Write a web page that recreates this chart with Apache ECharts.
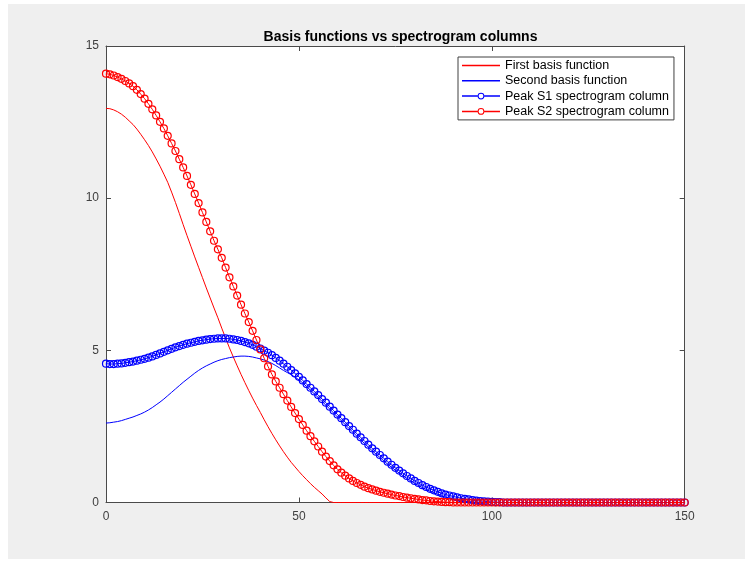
<!DOCTYPE html>
<html>
<head>
<meta charset="utf-8">
<script src="https://cdn.jsdelivr.net/npm/echarts@6/dist/echarts.min.js"></script>
<style>
  html, body { margin: 0; padding: 0; background: #ffffff; }
  #frame { position: absolute; left: 8px; top: 4px; width: 737px; height: 555px; background: #efefef; }
  #chart { position: absolute; left: 0; top: 0; width: 745px; height: 561px; }
</style>
</head>
<body>
<div id="frame"></div>
<div id="chart"></div>
<script>
// Sample index 0..150 along the x axis; one value per sample.
const firstBasis = [
  12.95, 12.94, 12.90, 12.84, 12.76, 12.66, 12.54, 12.42, 12.27, 12.10,
  11.92, 11.73, 11.52, 11.29, 11.05, 10.79, 10.52, 10.20, 9.86, 9.50,
  9.13, 8.77, 8.42, 8.07, 7.73, 7.39, 7.05, 6.72, 6.39, 6.07,
  5.73, 5.40, 5.08, 4.78, 4.49, 4.21, 3.94, 3.68, 3.43, 3.19,
  2.96, 2.72, 2.49, 2.27, 2.06, 1.86, 1.67, 1.49, 1.32, 1.17,
  1.02, 0.88, 0.75, 0.62, 0.50, 0.39, 0.28, 0.15, 0.03, 0,
  0, 0, 0, 0, 0, 0, 0, 0, 0, 0,
  0, 0, 0, 0, 0, 0, 0, 0, 0, 0,
  0, 0, 0, 0, 0, 0, 0, 0, 0, 0,
  0, 0, 0, 0, 0, 0, 0, 0, 0, 0,
  0, 0, 0, 0, 0, 0, 0, 0, 0, 0,
  0, 0, 0, 0, 0, 0, 0, 0, 0, 0,
  0, 0, 0, 0, 0, 0, 0, 0, 0, 0,
  0, 0, 0, 0, 0, 0, 0, 0, 0, 0,
  0, 0, 0, 0, 0, 0, 0, 0, 0, 0,
  0
];

const secondBasis = [
  2.61, 2.62, 2.64, 2.66, 2.69, 2.73, 2.77, 2.81, 2.86, 2.91,
  2.97, 3.04, 3.12, 3.21, 3.30, 3.40, 3.51, 3.62, 3.73, 3.84,
  3.95, 4.05, 4.15, 4.25, 4.34, 4.42, 4.49, 4.55, 4.61, 4.66,
  4.70, 4.73, 4.76, 4.78, 4.80, 4.81, 4.81, 4.80, 4.78, 4.75,
  4.72, 4.68, 4.63, 4.57, 4.50, 4.42, 4.34, 4.27, 4.20, 4.12,
  4.03, 3.93, 3.81, 3.69, 3.57, 3.45, 3.32, 3.20, 3.07, 2.94,
  2.81, 2.69, 2.56, 2.43, 2.31, 2.18, 2.06, 1.94, 1.82, 1.70,
  1.59, 1.48, 1.37, 1.26, 1.16, 1.06, 0.97, 0.88, 0.79, 0.71,
  0.63, 0.56, 0.49, 0.43, 0.37, 0.32, 0.27, 0.22, 0.18, 0.15,
  0.12, 0.09, 0.07, 0.05, 0.03, 0.02, 0.01, 0, 0, 0,
  0, 0, 0, 0, 0, 0, 0, 0, 0, 0,
  0, 0, 0, 0, 0, 0, 0, 0, 0, 0,
  0, 0, 0, 0, 0, 0, 0, 0, 0, 0,
  0, 0, 0, 0, 0, 0, 0, 0, 0, 0,
  0, 0, 0, 0, 0, 0, 0, 0, 0, 0,
  0
];

const peakS1 = [
  4.56, 4.55, 4.55, 4.56, 4.57, 4.59, 4.61, 4.63, 4.66, 4.69,
  4.72, 4.76, 4.80, 4.85, 4.90, 4.95, 5.00, 5.05, 5.10, 5.14,
  5.18, 5.22, 5.25, 5.28, 5.31, 5.33, 5.35, 5.37, 5.38, 5.39,
  5.39, 5.39, 5.38, 5.36, 5.34, 5.31, 5.27, 5.23, 5.18, 5.12,
  5.06, 4.99, 4.92, 4.84, 4.75, 4.66, 4.56, 4.46, 4.35, 4.24,
  4.13, 4.01, 3.89, 3.77, 3.65, 3.53, 3.40, 3.28, 3.15, 3.02,
  2.89, 2.77, 2.64, 2.51, 2.39, 2.26, 2.14, 2.02, 1.90, 1.78,
  1.67, 1.56, 1.45, 1.34, 1.24, 1.14, 1.05, 0.96, 0.87, 0.79,
  0.71, 0.64, 0.57, 0.51, 0.45, 0.40, 0.35, 0.30, 0.26, 0.23,
  0.20, 0.17, 0.14, 0.12, 0.10, 0.08, 0.06, 0.05, 0.04, 0.03,
  0.02, 0.01, 0.01, 0, 0, 0, 0, 0, 0, 0,
  0, 0, 0, 0, 0, 0, 0, 0, 0, 0,
  0, 0, 0, 0, 0, 0, 0, 0, 0, 0,
  0, 0, 0, 0, 0, 0, 0, 0, 0, 0,
  0, 0, 0, 0, 0, 0, 0, 0, 0, 0,
  0
];

const peakS2 = [
  14.09, 14.07, 14.03, 13.98, 13.92, 13.85, 13.77, 13.68, 13.56, 13.42,
  13.27, 13.10, 12.92, 12.72, 12.51, 12.29, 12.05, 11.80, 11.55, 11.28,
  11.01, 10.73, 10.44, 10.14, 9.84, 9.53, 9.22, 8.91, 8.60, 8.32,
  8.04, 7.72, 7.40, 7.10, 6.80, 6.50, 6.21, 5.93, 5.64, 5.34,
  5.03, 4.74, 4.47, 4.21, 3.98, 3.77, 3.56, 3.35, 3.14, 2.94,
  2.74, 2.55, 2.36, 2.18, 2.01, 1.84, 1.67, 1.51, 1.36, 1.22,
  1.09, 0.98, 0.88, 0.79, 0.71, 0.64, 0.58, 0.52, 0.47, 0.43,
  0.39, 0.35, 0.32, 0.29, 0.26, 0.23, 0.21, 0.18, 0.16, 0.14,
  0.12, 0.10, 0.08, 0.07, 0.05, 0.04, 0.03, 0.02, 0.01, 0.01,
  0, 0, 0, 0, 0, 0, 0, 0, 0, 0,
  0, 0, 0, 0, 0, 0, 0, 0, 0, 0,
  0, 0, 0, 0, 0, 0, 0, 0, 0, 0,
  0, 0, 0, 0, 0, 0, 0, 0, 0, 0,
  0, 0, 0, 0, 0, 0, 0, 0, 0, 0,
  0, 0, 0, 0, 0, 0, 0, 0, 0, 0,
  0
];

const seriesNames = [
  'First basis function',
  'Second basis function',
  'Peak S1 spectrogram column',
  'Peak S2 spectrogram column'
];

const xTicks = [0, 50, 100, 150];
const yTicks = [0, 5, 10, 15];

const RED = '#ff0000';
const BLUE = '#0000ff';
const AXIS = '#4a4a4a';
const FONT = '"Liberation Sans", Arial, Helvetica, sans-serif';

// Legend glyphs: a bare line, and a line interrupted by an open circle.
const ICON_LINE = 'path://M0,0H38V1.5H0Z';
const ICON_LINE_CIRCLE =
  'path://M0,2.65H15.6V4.15H0Z M22.4,2.65H38V4.15H22.4Z ' +
  'M15.6,3.4A3.4,3.4 0 1 0 22.4,3.4A3.4,3.4 0 1 0 15.6,3.4Z ' +
  'M16.6,3.4A2.4,2.4 0 1 1 21.4,3.4A2.4,2.4 0 1 1 16.6,3.4Z';

// pair each value with its sample index
const pairs = arr => arr.map((v, i) => [i, v]);

const plainLine = (name, values, color) => ({
  name,
  type: 'line',
  color,
  data: pairs(values),
  symbol: 'none',
  clip: false,
  lineStyle: { color, width: 1 },
  itemStyle: { color, borderColor: color },
  emphasis: { disabled: true },
  animation: false
});

const markedLine = (name, values, color) => ({
  name,
  type: 'line',
  color,
  data: pairs(values),
  symbol: 'circle',
  symbolSize: 7,
  showAllSymbol: true,
  clip: false,
  lineStyle: { color, width: 1 },
  itemStyle: { color: 'rgba(0,0,0,0)', borderColor: color, borderWidth: 1.2 },
  emphasis: { disabled: true },
  animation: false
});

const axisCommon = {
  axisLine: { show: true, onZero: false, lineStyle: { color: AXIS, width: 1 } },
  axisTick: { show: true, inside: true, length: 5, lineStyle: { color: AXIS, width: 1 } },
  splitLine: { show: false }
};

const legendItem = (name, icon, color) => ({
  name, icon,
  itemStyle: { color, borderColor: color, borderWidth: 0, opacity: 1 }
});

const chart = echarts.init(document.getElementById('chart'), null, { renderer: 'canvas' });

chart.setOption({
  backgroundColor: 'transparent',
  animation: false,
  color: [RED, BLUE, BLUE, RED],
  title: {
    text: 'Basis functions vs spectrogram columns',
    left: 395.5,
    top: 25,
    textAlign: 'center',
    textStyle: { fontFamily: FONT, fontSize: 14, fontWeight: 'bold', color: '#000' }
  },
  grid: {
    left: 106, right: 60.3, top: 46, bottom: 58.5,
    show: true, backgroundColor: '#ffffff', borderWidth: 0
  },
  legend: {
    data: [
      legendItem(seriesNames[0], ICON_LINE, RED),
      legendItem(seriesNames[1], ICON_LINE, BLUE),
      legendItem(seriesNames[2], ICON_LINE_CIRCLE, BLUE),
      legendItem(seriesNames[3], ICON_LINE_CIRCLE, RED)
    ],
    orient: 'vertical',
    left: 458,
    top: 57,
    itemWidth: 38,
    itemHeight: 12,
    itemGap: 2.3,
    padding: [2, 5, 2, 4],
    backgroundColor: '#ffffff',
    borderColor: '#404040',
    borderWidth: 1,
    borderRadius: 0,
    selectedMode: false,
    textStyle: { fontFamily: FONT, fontSize: 12.5, color: '#000' }
  },
  xAxis: [
    Object.assign({
      type: 'value', min: xTicks[0], max: xTicks[xTicks.length - 1], interval: 50,
      position: 'bottom',
      axisLabel: { margin: 8, color: '#404040', fontFamily: FONT, fontSize: 12 }
    }, axisCommon),
    Object.assign({
      type: 'value', min: xTicks[0], max: xTicks[xTicks.length - 1], interval: 50,
      position: 'top',
      axisLabel: { show: false }
    }, axisCommon)
  ],
  yAxis: [
    Object.assign({
      type: 'value', min: yTicks[0], max: yTicks[yTicks.length - 1], interval: 5,
      position: 'left',
      axisLabel: { margin: 7, color: '#404040', fontFamily: FONT, fontSize: 12 }
    }, axisCommon),
    Object.assign({
      type: 'value', min: yTicks[0], max: yTicks[yTicks.length - 1], interval: 5,
      position: 'right',
      axisLabel: { show: false }
    }, axisCommon)
  ],
  series: [
    plainLine(seriesNames[0], firstBasis, RED),
    plainLine(seriesNames[1], secondBasis, BLUE),
    markedLine(seriesNames[2], peakS1, BLUE),
    markedLine(seriesNames[3], peakS2, RED)
  ]
});
</script>
</body>
</html>
